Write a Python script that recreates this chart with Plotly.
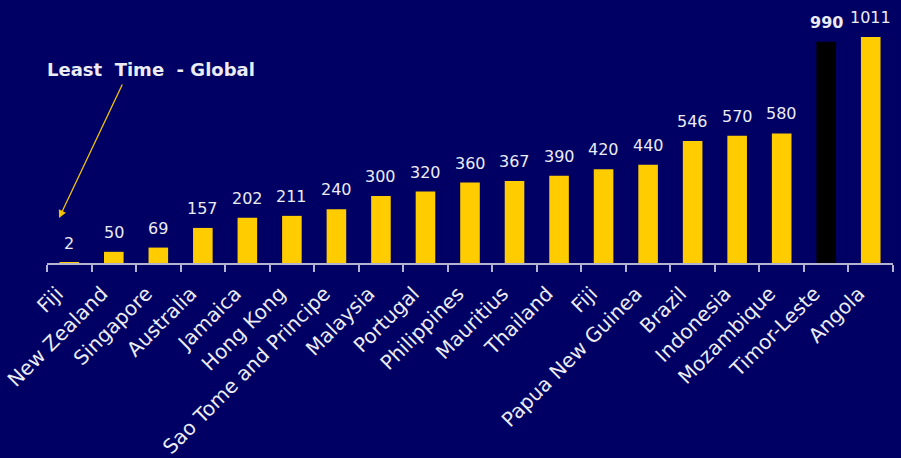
import plotly.graph_objects as go

# Days required, by country
countries = ["Fiji", "New Zealand", "Singapore", "Australia", "Jamaica", "Hong Kong",
             "Sao Tome and Principe", "Malaysia", "Portugal", "Philippines", "Mauritius",
             "Thailand", "Fiji", "Papua New Guinea", "Brazil", "Indonesia", "Mozambique",
             "Timor-Leste", "Angola"]
values = [2, 50, 69, 157, 202, 211, 240, 300, 320, 360, 367, 390, 420, 440, 546, 570,
          580, 990, 1011]
highlight = "Timor-Leste"

BG = "#000064"
GOLD = "#FFCC00"
TEXT = "#ECECF4"
AXIS = "#B4B4D2"
FONT = "DejaVu Sans, sans-serif"

xs = list(range(len(countries)))
colors = ["#000000" if c == highlight else GOLD for c in countries]

fig = go.Figure(go.Bar(x=xs, y=values, marker=dict(color=colors, line=dict(width=0)),
                       width=0.44, hoverinfo="skip"))

annotations = []
for x, c, v in zip(xs, countries, values):
    bold = c == highlight
    annotations.append(dict(
        x=x, y=v, xref="x", yref="y", yanchor="bottom", yshift=8, showarrow=False,
        text=f"<b>{v}</b>" if bold else str(v),
        font=dict(family=FONT, size=16, color=TEXT)))

# callout pointing at the shortest bar
annotations.append(dict(x=-0.23, y=201, xref="x", yref="y", ax=64, ay=-135,
                        text="", showarrow=True, arrowhead=2, arrowsize=1.2,
                        arrowwidth=1.3, arrowcolor="#F2C200"))
annotations.append(dict(x=1.84, y=865, xref="x", yref="y", showarrow=False,
                        text="<b>Least  Time  - Global</b>",
                        font=dict(family=FONT, size=18, color=TEXT)))

fig.update_layout(
    width=901, height=458,
    margin=dict(l=47, r=8, t=0, b=195),
    paper_bgcolor=BG, plot_bgcolor=BG,
    showlegend=False,
    annotations=annotations,
    xaxis=dict(
        range=[-0.5, len(countries) - 0.5],
        tickmode="array", tickvals=xs, ticktext=countries,
        tickangle=-45, ticks="", showgrid=False, zeroline=False,
        showline=True, linecolor=AXIS, linewidth=2,
        tickfont=dict(family=FONT, size=20, color=TEXT),
        ticklabelstandoff=9, ticklabelshift=-12,
        automargin=False,
        minor=dict(tickmode="array", tickvals=[i - 0.5 for i in range(len(countries) + 1)],
                   ticks="outside", ticklen=7, tickwidth=1.5, tickcolor=AXIS,
                   showgrid=False),
    ),
    yaxis=dict(range=[0, 1177], visible=False, showgrid=False, zeroline=False),
)

fig.write_html("out.html")
